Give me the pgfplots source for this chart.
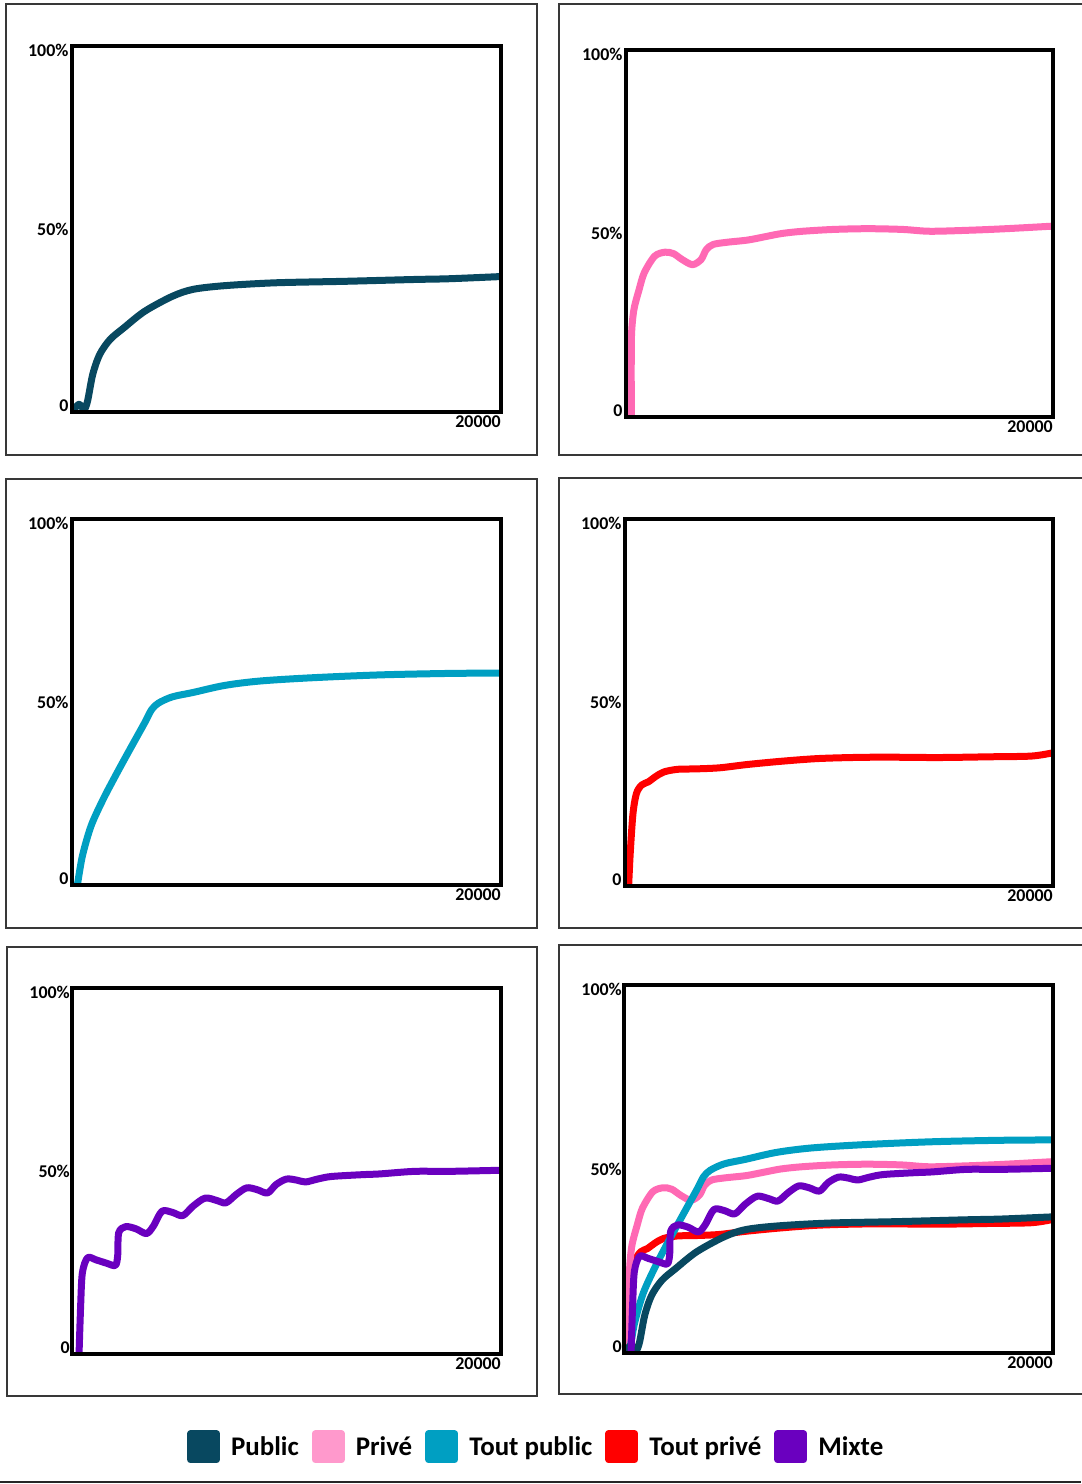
\documentclass[border=0pt]{standalone}
\usepackage{fontspec}
\setmainfont{Carlito}
\usepackage{pgfplots}
\usepackage{pgfplotstable}
\pgfplotsset{compat=1.18}

\definecolor{cpublic}{RGB}{8,72,96}
\definecolor{cprive}{RGB}{255,105,180}
\definecolor{cprivel}{RGB}{255,153,204}
\definecolor{ctpublic}{RGB}{0,159,194}
\definecolor{ctprive}{RGB}{255,0,0}
\definecolor{cmixte}{RGB}{106,0,191}

\pgfplotstableread{
x y
0 0
323 2.1
565 0.7
726 3.0
968 10.3
1290 15.7
1774 19.8
2419 23.0
3387 27.5
4677 31.6
5645 33.5
7097 34.5
9516 35.3
12742 35.7
15968 36.2
17581 36.4
20000 37.0
}\publicdata

\pgfplotstableread{
x y
250 -1
245 13.8
262 22.9
371 29.3
613 34.7
855 39.3
1339 43.8
1823 44.9
2226 44.5
2629 42.9
3113 41.5
3516 42.9
3758 45.6
4081 47.0
4726 47.6
5694 48.2
6500 49.1
7306 50.0
8274 50.6
9726 51.1
11339 51.3
12952 51.1
14242 50.6
16177 50.9
17790 51.3
20000 52.0
}\privedata

\pgfplotstableread{
x y
200 -1
250 0
484 7.9
887 16.1
1452 23.4
2097 30.6
2742 37.5
3387 44.3
3710 47.9
4032 49.7
4677 51.4
5645 52.6
7097 54.5
8710 55.7
11129 56.6
14355 57.4
17581 57.8
20000 57.9
}\tpublicdata

\pgfplotstableread{
x y
162 -1
243 8.8
372 19.7
534 25.2
777 27.5
1101 28.4
1425 29.8
1830 31.1
2478 31.8
3287 31.9
4421 32.2
5717 33.1
7336 34.0
8955 34.7
10575 35.0
12194 35.1
14623 35.0
17053 35.2
18996 35.4
20000 36.3
}\tprivedata

\pgfplotstableread{
x y
323 -1
403 13.2
484 22.2
726 26.3
1129 25.7
1613 24.8
2016 24.2
2129 26.8
2177 33.1
2500 34.8
2984 34.2
3468 32.9
3790 34.9
4194 39.0
4677 38.7
5161 37.8
5645 40.4
6210 42.6
6774 41.9
7177 41.3
7661 43.6
8145 45.4
8629 44.9
9113 44.0
9516 46.3
10000 47.8
10484 47.5
10887 47.0
11452 47.8
12097 48.5
13548 49.0
14355 49.2
15968 49.9
17581 49.9
20000 50.2
}\mixtedata

\pgfplotsset{panel/.style={
  scale only axis, anchor=south west,
  xmin=0, xmax=20000, ymin=0, ymax=100,
  axis line style={line width=4bp, black},
  axis on top,
  scaled x ticks=false,
  xtick={20000}, xticklabels={20000},
  ytick={1.8,50,98.9}, yticklabels={0,50\%,100\%},
  major tick length=0pt,
  tick label style={font=\bfseries\fontsize{18}{18}\selectfont},
  xticklabel style={anchor=north east, inner xsep=0pt},
  every axis plot/.append style={line width=7bp, smooth, tension=0.5, no markers, line cap=round, line join=round},
}}

\begin{document}
\begin{tikzpicture}[x=1bp,y=1bp]
\path[use as bounding box] (0,0) rectangle (1081,1484);
\fill[white] (0,0) rectangle (1081,1484);
\begin{scope}[line width=1.6bp, draw=black!78]
\draw (6,1480) rectangle (537,1029);
\draw (559,1480) rectangle (1095,1029);
\draw (6,1005) rectangle (537,556);
\draw (559,1006) rectangle (1095,556);
\draw (7,537) rectangle (537,88);
\draw (559,539) rectangle (1095,90);
\end{scope}
\draw[line width=2bp, black!85] (0,2) -- (1081,2);

\begin{axis}[panel, at={(72bp,1072bp)}, width=429bp, height=366bp]
\addplot[color=cpublic] table[x=x,y=y] {\publicdata};
\end{axis}

\begin{axis}[panel, at={(626bp,1067bp)}, width=427bp, height=367bp]
\addplot[color=cprive] table[x=x,y=y] {\privedata};
\end{axis}

\begin{axis}[panel, at={(72bp,599bp)}, width=429bp, height=366bp]
\addplot[color=ctpublic] table[x=x,y=y] {\tpublicdata};
\end{axis}

\begin{axis}[panel, at={(625bp,598bp)}, width=428bp, height=367bp]
\addplot[color=ctprive] table[x=x,y=y] {\tprivedata};
\end{axis}

\begin{axis}[panel, at={(72bp,130bp)}, width=429bp, height=366bp,
  yticklabel style={inner xsep=2bp}]
\addplot[color=cmixte] table[x=x,y=y] {\mixtedata};
\end{axis}

\begin{axis}[panel, at={(624bp,131bp)}, width=429bp, height=368bp,
  yticklabel style={inner xsep=2bp},
  legend style={at={(-0.207,-0.255)}, anchor=center, draw=none, fill=none,
    legend columns=5, font=\bfseries\fontsize{27}{27}\selectfont,
    cells={anchor=west}, nodes={inner sep=0pt},
    /tikz/every odd column/.append style={column sep=11bp},
    /tikz/every even column/.append style={column sep=13bp}},
  legend image code/.code={\fill (0bp,-13bp) rectangle (26bp,13bp);}]
\addplot[color=ctprive, forget plot] table[x=x,y=y] {\tprivedata};
\addplot[color=cprive, forget plot] table[x=x,y=y] {\privedata};
\addplot[color=ctpublic, forget plot] table[x=x,y=y] {\tpublicdata};
\addplot[color=cpublic, forget plot] table[x=x,y=y] {\publicdata};
\addplot[color=cmixte, forget plot] table[x=x,y=y] {\mixtedata};
\addlegendimage{color=cpublic}
\addlegendentry{Public}
\addlegendimage{color=cprivel}
\addlegendentry{Privé}
\addlegendimage{color=ctpublic}
\addlegendentry{Tout public}
\addlegendimage{color=ctprive}
\addlegendentry{Tout privé}
\addlegendimage{color=cmixte}
\addlegendentry{Mixte}
\end{axis}
\end{tikzpicture}
\end{document}
